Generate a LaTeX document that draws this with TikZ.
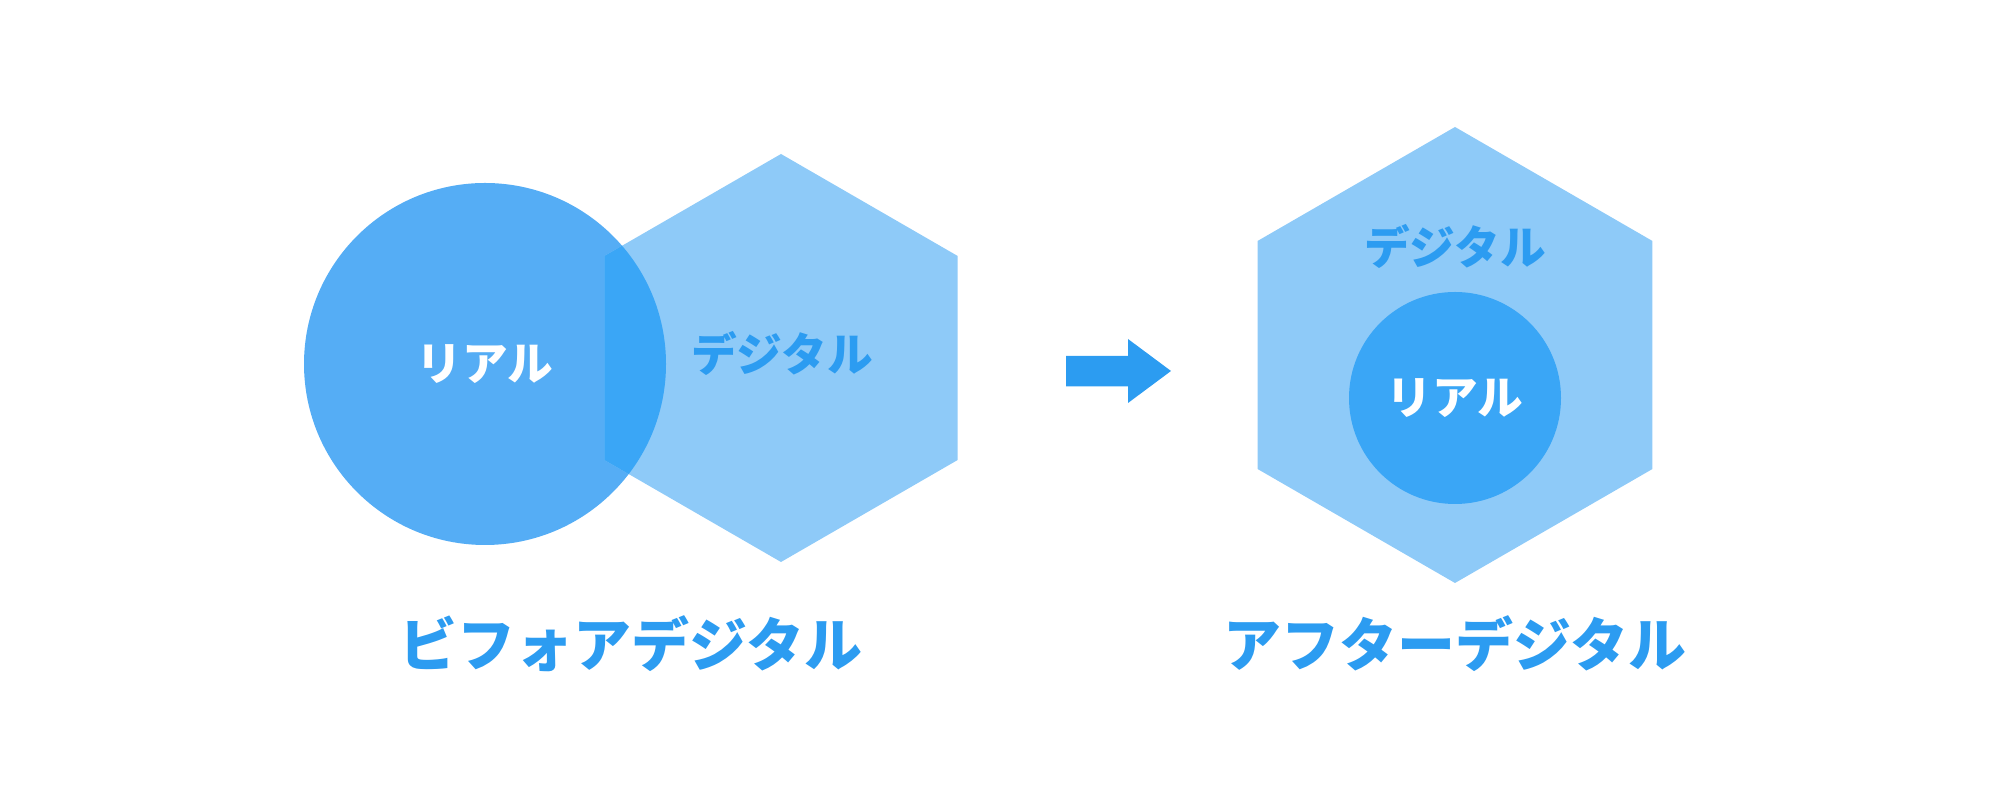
\documentclass[tikz,border=0pt]{standalone}
\usepackage{fontspec}
\newfontfamily\jpfont{Noto Sans CJK JP}
\definecolor{realblue}{HTML}{55ADF5}
\definecolor{digiblue}{HTML}{8ECAF8}
\definecolor{mixblue}{HTML}{3AA6F6}
\definecolor{textblue}{HTML}{2C9CF1}
\tikzset{
  shapetext/.style={font=\jpfont\bfseries\fontsize{13pt}{15pt}\selectfont},
  titletext/.style={font=\jpfont\bfseries\fontsize{16.5pt}{19pt}\selectfont,text=textblue}
}
\begin{document}
\begin{tikzpicture}
  \useasboundingbox (0,0) rectangle (20,8);
  % Left: circle and hexagon overlapping
  \coordinate (realL) at (4.85,4.36);
  \coordinate (digiL) at (7.81,4.42);
  \fill[realblue] (realL) circle (1.81);
  \fill[digiblue] (digiL) +(90:2.04) -- +(150:2.04) -- +(210:2.04) -- +(270:2.04) -- +(330:2.04) -- +(30:2.04) -- cycle;
  \begin{scope}
    \clip (digiL) +(90:2.04) -- +(150:2.04) -- +(210:2.04) -- +(270:2.04) -- +(330:2.04) -- +(30:2.04) -- cycle;
    \fill[mixblue] (realL) circle (1.81);
  \end{scope}
  \node[shapetext,text=white] (realtxtL) at (4.85,4.36) {リアル};
  \node[shapetext,text=textblue] (digitxtL) at (7.82,4.47) {デジタル};
  \node[titletext] (before) at (6.31,1.56) {ビフォアデジタル};
  % Middle: arrow
  \fill[textblue] (10.66,4.44) -- (11.28,4.44) -- (11.28,4.61) -- (11.71,4.29) -- (11.28,3.97) -- (11.28,4.135) -- (10.66,4.135) -- cycle;
  % Right: circle inside hexagon
  \coordinate (digiR) at (14.55,4.45);
  \coordinate (realR) at (14.55,4.02);
  \fill[digiblue] (digiR) +(90:2.28) -- +(150:2.28) -- +(210:2.28) -- +(270:2.28) -- +(330:2.28) -- +(30:2.28) -- cycle;
  \fill[mixblue] (realR) circle (1.06);
  \node[shapetext,text=textblue] (digitxtR) at (14.55,5.54) {デジタル};
  \node[shapetext,text=white] (realtxtR) at (realR) {リアル};
  \node[titletext] (after) at (14.55,1.56) {アフターデジタル};
\end{tikzpicture}
\end{document}
